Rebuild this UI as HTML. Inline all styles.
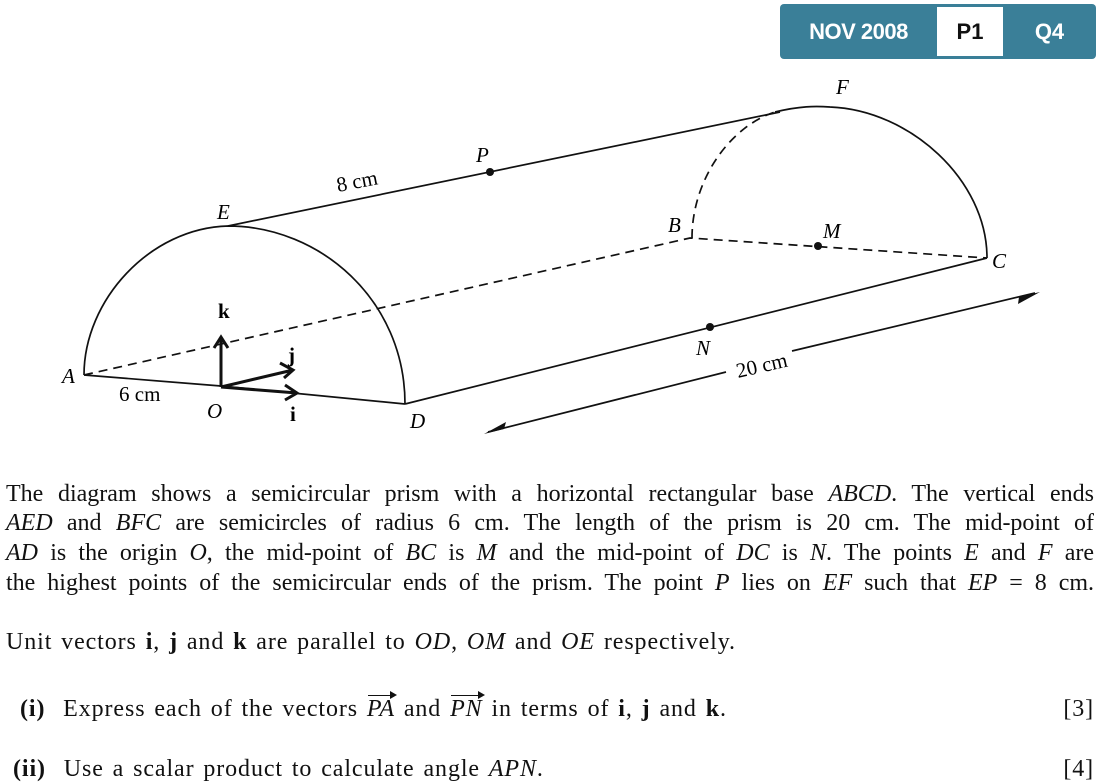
<!DOCTYPE html>
<html><head><meta charset="utf-8"><style>
body{margin:0;width:1100px;height:784px;background:#fff;position:relative;overflow:hidden;font-family:"Liberation Serif",serif;color:#111}
.l{position:absolute;left:6px;width:1088px;font-size:24px;letter-spacing:0;word-spacing:0;line-height:26px;text-align:justify;text-align-last:justify;white-space:nowrap}
.n{text-align-last:auto;letter-spacing:0.9px;word-spacing:2px}
i{font-style:italic}
.badge{position:absolute;left:780px;top:4px;width:316px;height:55px;background:#3a7f98;border-radius:4px;font-family:"Liberation Sans",sans-serif;font-weight:bold;font-size:22px;color:#fff}
.badge span{position:absolute;top:0;line-height:55px;text-align:center}
.ov{position:relative;display:inline-block}
.ov:before{content:"";position:absolute;left:1px;right:0;top:-1px;border-top:1.5px solid #111}
.ov:after{content:"";position:absolute;right:-2px;top:-5px;border-left:7px solid #111;border-top:4px solid transparent;border-bottom:4px solid transparent}
</style></head><body>
<div class="badge"><span style="left:0;width:157px;letter-spacing:-0.5px">NOV 2008</span><span style="left:157px;top:3px;width:66px;height:49px;line-height:49px;background:#fff;color:#111">P1</span><span style="left:223px;width:93px">Q4</span></div>
<svg width="1100" height="470" style="position:absolute;left:0;top:0" font-family="Liberation Serif, serif" font-size="21">
<g fill="none" stroke="#111" stroke-width="1.7">
<path d="M84,375 C84,300 150,228 228,226 C320,226 405,300 405,404"/>
<path d="M228,226 L780,112"/>
<path d="M775,112 C800,106 815,106 830,107 C910,110 987,180 987,258"/>
<path d="M405,404 L987,258"/>
<path d="M84,375 L221,386 L405,404"/>
<g stroke-dasharray="9,6">
<path d="M84,375 L690,238 L987,258"/>
<path d="M692,238 C692,180 730,125 778,111"/>
</g>
<path d="M488,432 L726,372 M792,351 L1035,293"/>
</g>
<path d="M484,434 L506,422 L504,429 Z" fill="#111"/>
<path d="M1040,292 L1018,304 L1019,297 Z" fill="#111"/>
<g stroke="#111" stroke-width="3" fill="none">
<path d="M221,387 L221,340 M214,348 L221,337 L228,348"/>
<path d="M221,387 L293,370 M280,363 L293,370 L284,378"/>
<path d="M221,387 L297,393 M285,385 L297,393 L285,400"/>
</g>
<circle cx="490" cy="172" r="4" fill="#111"/><circle cx="818" cy="246" r="4" fill="#111"/><circle cx="710" cy="327" r="4" fill="#111"/>
<g font-style="italic">
<text x="62" y="383">A</text><text x="207" y="418">O</text><text x="410" y="428">D</text><text x="217" y="219">E</text>
<text x="476" y="162">P</text><text x="668" y="232">B</text><text x="836" y="94">F</text><text x="823" y="238">M</text>
<text x="992" y="268">C</text><text x="696" y="355">N</text></g>
<text x="119" y="401">6 cm</text>
<text x="338" y="192" transform="rotate(-11 338 192)">8 cm</text>
<text x="738" y="378" transform="rotate(-13 738 378)">20 cm</text>
<g font-weight="bold"><text x="218" y="318">k</text><text x="288" y="362">j</text><text x="290" y="421">i</text></g>
</svg>
<div class="l" style="top:481px">The diagram shows a semicircular prism with a horizontal rectangular base <i>ABCD</i>. The vertical ends</div>
<div class="l" style="top:510px"><i>AED</i> and <i>BFC</i> are semicircles of radius 6 cm. The length of the prism is 20 cm. The mid-point of</div>
<div class="l" style="top:540px"><i>AD</i> is the origin <i>O</i>, the mid-point of <i>BC</i> is <i>M</i> and the mid-point of <i>DC</i> is <i>N</i>. The points <i>E</i> and <i>F</i> are</div>
<div class="l" style="top:570px">the highest points of the semicircular ends of the prism. The point <i>P</i> lies on <i>EF</i> such that <i>EP</i> = 8 cm.</div>
<div class="l n" style="top:629px">Unit vectors <b>i</b>, <b>j</b> and <b>k</b> are parallel to <i>OD</i>, <i>OM</i> and <i>OE</i> respectively.</div>
<div class="l n" style="top:696px;left:20px;width:1074px"><b>(i)</b>&nbsp; Express each of the vectors <i class="ov">PA</i> and <i class="ov">PN</i> in terms of <b>i</b>, <b>j</b> and <b>k</b>.<span style="position:absolute;right:0">[3]</span></div>
<div class="l n" style="top:756px;left:13px;width:1081px"><b>(ii)</b>&nbsp; Use a scalar product to calculate angle <i>APN</i>.<span style="position:absolute;right:0">[4]</span></div>
</body></html>
